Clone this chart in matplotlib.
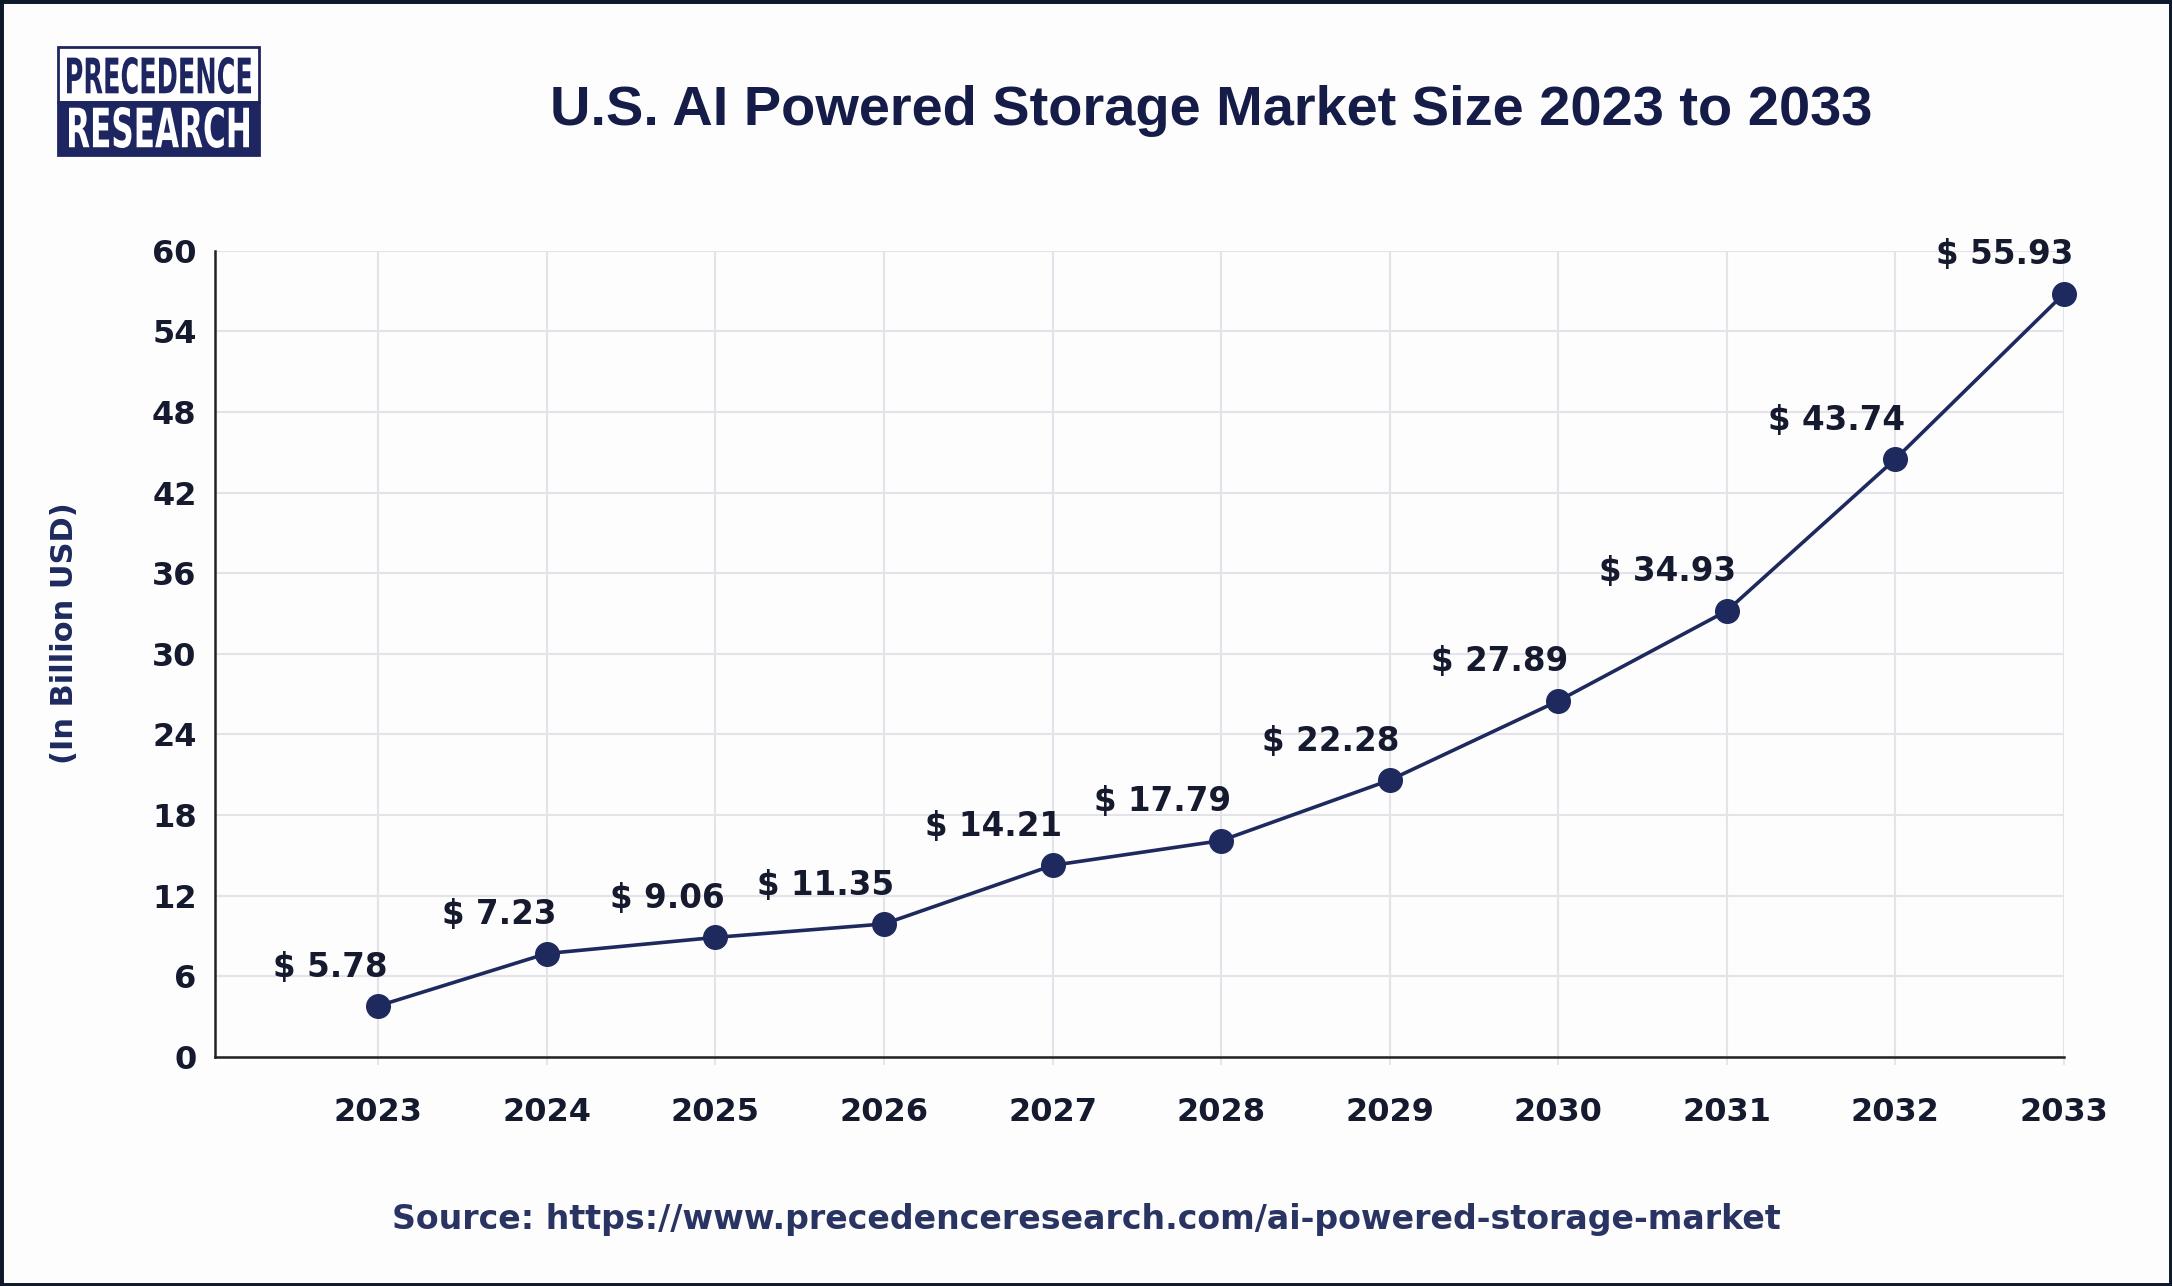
import matplotlib
matplotlib.use("Agg")
import matplotlib.pyplot as plt
from matplotlib.patches import Rectangle, PathPatch
from matplotlib.textpath import TextPath
from matplotlib.font_manager import FontProperties
from matplotlib.transforms import Affine2D, IdentityTransform

# ---- data ----
years = ["2023", "2024", "2025", "2026", "2027", "2028", "2029", "2030", "2031", "2032", "2033"]
label_values = [5.78, 7.23, 9.06, 11.35, 14.21, 17.79, 22.28, 27.89, 34.93, 43.74, 55.93]
# marker heights as drawn in the reference
plotted_values = [3.8, 7.7, 8.9, 9.9, 14.26, 16.1, 20.6, 26.5, 33.2, 44.5, 56.8]
y_ticks = [0, 6, 12, 18, 24, 30, 36, 42, 48, 54, 60]

title = "U.S. AI Powered Storage Market Size 2023 to 2033"
ylabel = "(In Billion USD)"
source = "Source: https://www.precedenceresearch.com/ai-powered-storage-market"

NAVY = "#1e2a5e"
DARK = "#161a2e"
W, H = 2172, 1286
DPI = 100

fig = plt.figure(figsize=(W / DPI, H / DPI), dpi=DPI)
fig.patch.set_facecolor("#fdfdfe")

ax = fig.add_axes([214.7 / W, 1 - 1057 / H, (2064 - 214.7) / W, (1057 - 250.7) / H])
ax.set_facecolor("none")
x = list(range(len(years)))

ax.plot(x, plotted_values, color=NAVY, lw=2.6, marker="o", ms=17,
        mfc=NAVY, mec=NAVY, clip_on=False, zorder=5)

for xi, yv, lv in zip(x, plotted_values, label_values):
    ax.annotate(f"$ {lv:.2f}", (xi, yv), xytext=(7, 28), textcoords="offset points",
                ha="right", va="center", fontsize=23.5, fontweight="bold",
                color=DARK, family="DejaVu Sans", zorder=6)

ax.set_xlim(-0.97, 10)
ax.set_ylim(0, 60)
ax.set_xticks(x)
ax.set_xticklabels(years)
ax.set_yticks(y_ticks)
ax.set_yticklabels([str(v) for v in y_ticks])
for lab in ax.get_xticklabels() + ax.get_yticklabels():
    lab.set_fontsize(23)
    lab.set_fontweight("bold")
    lab.set_color(DARK)
    lab.set_family("DejaVu Sans")
ax.tick_params(axis="x", length=6, color="#e2e2e6", width=1.2, pad=23)
ax.tick_params(axis="y", length=0, pad=13)

ax.grid(True, color="#e4e4e8", lw=1.5, zorder=0)
ax.set_axisbelow(True)
for s in ["top", "right"]:
    ax.spines[s].set_visible(False)
for s in ["left", "bottom"]:
    ax.spines[s].set_color("#222222")
    ax.spines[s].set_linewidth(1.8)

fig.text(65 / W, 1 - 633 / H, ylabel, rotation=90, ha="center", va="center",
         fontsize=22, fontweight="bold", color=NAVY, family="DejaVu Sans")

# title, fitted to the reference width
fig.canvas.draw()
renderer = fig.canvas.get_renderer()
t = fig.text(1211 / W, 1 - 111 / H, title, ha="center", va="center",
             fontsize=36, fontweight="bold", color="#161c48", family="Liberation Sans")
bb = t.get_window_extent(renderer)
t.set_fontsize(36 * 1326 / bb.width)

s = fig.text(1086 / W, 1 - 1220 / H, source, ha="center", va="center",
             fontsize=20, fontweight="bold", color="#2a3462", family="DejaVu Sans")
bb = s.get_window_extent(renderer)
s.set_fontsize(20 * 1393 / bb.width)

# logo (pixel coords, origin bottom-left)
ident = IdentityTransform()
x0, x1 = 58, 259
ytop, ymid, ybot = H - 47, H - 102, H - 155
fig.patches.append(Rectangle((x0, ymid), x1 - x0, ytop - ymid, transform=ident,
                             facecolor="white", edgecolor="#1d2660", lw=2))
fig.patches.append(Rectangle((x0, ybot), x1 - x0, ymid - ybot, transform=ident,
                             facecolor="#1d2660", edgecolor="#1d2660", lw=2))


def fit_text(txt, bx0, bx1, by0, by1, color):
    fp = FontProperties(family="DejaVu Sans", weight="bold")
    tp = TextPath((0, 0), txt, size=10, prop=fp)
    ext = tp.get_extents()
    sx = (bx1 - bx0) / ext.width
    sy = (by1 - by0) / ext.height
    tr = Affine2D().translate(-ext.x0, -ext.y0).scale(sx, sy).translate(bx0, by0)
    path = tr.transform_path(tp)
    fig.patches.append(PathPatch(path, transform=ident, facecolor=color, edgecolor="none"))


fit_text("PRECEDENCE", 67, 251, H - 94, H - 57, "#1d2660")
fit_text("RESEARCH", 69, 249, H - 148, H - 107, "white")

# outer border
fig.patches.append(Rectangle((0, 0), 1, 1, transform=fig.transFigure, fill=False,
                             edgecolor="#0e1a2b", lw=5))

fig.savefig("out.png", dpi=DPI, facecolor=fig.get_facecolor())
